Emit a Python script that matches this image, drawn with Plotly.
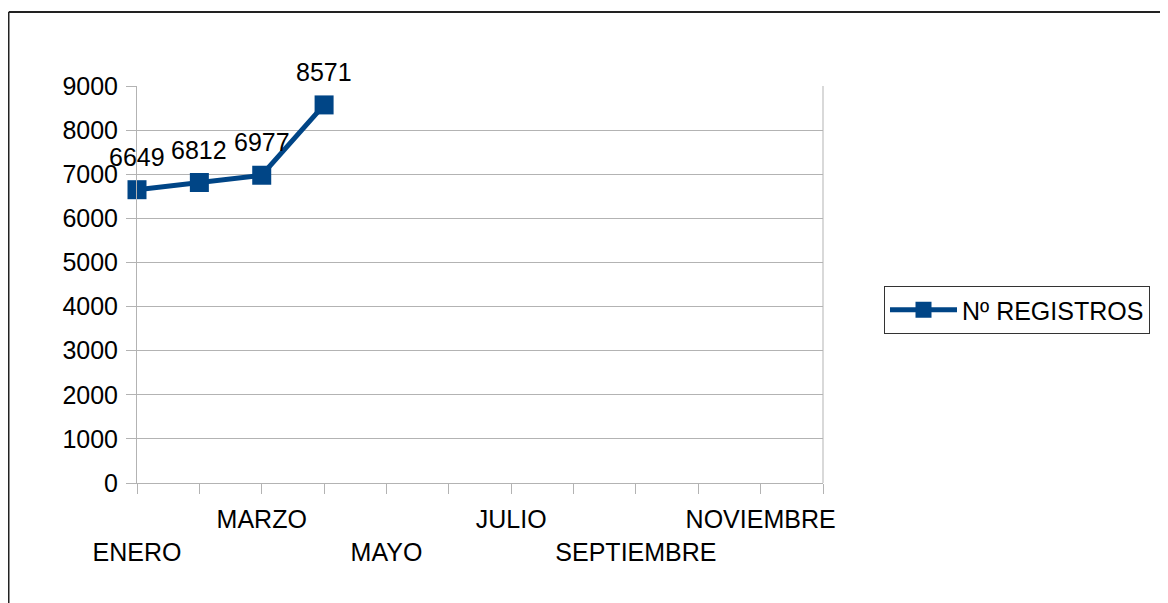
import plotly.graph_objects as go

meses = ["ENERO", "FEBRERO", "MARZO", "ABRIL", "MAYO", "JUNIO", "JULIO",
         "AGOSTO", "SEPTIEMBRE", "OCTUBRE", "NOVIEMBRE", "DICIEMBRE"]
registros = [6649, 6812, 6977, 8571]
serie = "Nº REGISTROS"

# Only every second month is labelled, staggered on two rows
etiquetas = []
for i, m in enumerate(meses):
    if i % 2 == 1:
        etiquetas.append("")
    elif i % 4 == 0:
        etiquetas.append("<br>" + m)
    else:
        etiquetas.append(m)

azul = "#004586"
gris = "#b3b3b3"
fuente = dict(family="Liberation Sans, Arial, sans-serif", size=25, color="black")

# page body has an 8px offset, so plot pixels are shifted accordingly
W, H = 1160, 595
ML, MT, PW, PH = 129, 78, 686, 397


def px(x):
    return (x - 8 - ML) / PW


def py(y):
    return 1 - (y - 8 - MT) / PH


fig = go.Figure()
fig.add_trace(go.Scatter(
    x=meses[:len(registros)], y=registros,
    mode="lines+markers",
    name=serie,
    line=dict(color=azul, width=5),
    marker=dict(symbol="square", size=19, color=azul),
    cliponaxis=False,
))

for m, v in zip(meses, registros):
    fig.add_annotation(x=m, y=v, text=str(v), showarrow=False,
                       yanchor="middle", yshift=33, font=fuente)

fig.update_layout(
    width=W, height=H,
    margin=dict(l=ML, r=W - ML - PW, t=MT, b=H - MT - PH),
    paper_bgcolor="white", plot_bgcolor="white",
    font=fuente,
    showlegend=True,
    legend=dict(
        x=px(884), y=py(310), xanchor="left", yanchor="middle",
        bordercolor="#333333", borderwidth=1,
        font=fuente, itemwidth=67,
    ),
    shapes=[
        dict(type="line", xref="paper", yref="paper",
             x0=px(8.75), x1=px(1200), y0=py(12), y1=py(12),
             line=dict(color="#222222", width=2)),
        dict(type="line", xref="paper", yref="paper",
             x0=px(8.75), x1=px(8.75), y0=py(12), y1=py(640),
             line=dict(color="#222222", width=1.5)),
        # right border of plot area
        dict(type="line", xref="paper", yref="paper", x0=1, x1=1, y0=0, y1=1,
             line=dict(color=gris, width=1)),
    ],
)

fig.update_xaxes(
    type="category",
    categoryorder="array", categoryarray=meses,
    range=[0, 11],
    tickvals=meses, ticktext=etiquetas,
    ticks="outside", ticklen=10, tickcolor=gris, tickwidth=1,
    ticklabelstandoff=4,
    showline=True, linecolor=gris, linewidth=1,
    showgrid=False, zeroline=False,
    tickfont=fuente, tickangle=0,
)
fig.update_yaxes(
    range=[0, 9000], dtick=1000,
    ticks="outside", ticklen=10, tickcolor=gris,
    ticklabelstandoff=3,
    showline=True, linecolor=gris, linewidth=1,
    showgrid=True, gridcolor=gris, gridwidth=1,
    zeroline=False, tickfont=fuente,
)

fig.write_html("out.html")
